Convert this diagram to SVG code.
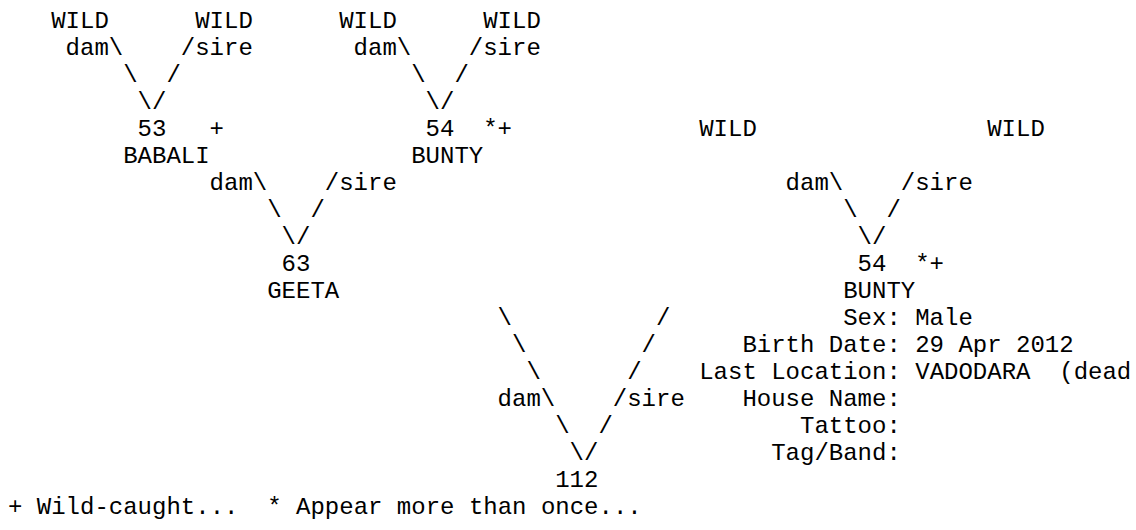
<svg xmlns="http://www.w3.org/2000/svg" width="1136" height="530" viewBox="0 0 1136 530">
<style>
.t{font-family:"Liberation Mono","Courier New",monospace;font-size:24px;fill:#000;white-space:pre}
</style>
<rect width="1136" height="530" fill="#fff"/>
<g id="connectors" class="t">
<text x="65.6" y="55">dam\</text><text x="180.8" y="55">/sire</text>
<text x="123.2" y="82">\</text><text x="166.4" y="82">/</text>
<text x="137.6" y="109">\/</text>
<text x="353.6" y="55">dam\</text><text x="468.8" y="55">/sire</text>
<text x="411.2" y="82">\</text><text x="454.4" y="82">/</text>
<text x="425.6" y="109">\/</text>
<text x="209.6" y="190">dam\</text><text x="324.8" y="190">/sire</text>
<text x="267.2" y="217">\</text><text x="310.4" y="217">/</text>
<text x="281.6" y="244">\/</text>
<text x="785.6" y="190">dam\</text><text x="900.8" y="190">/sire</text>
<text x="843.2" y="217">\</text><text x="886.4" y="217">/</text>
<text x="857.6" y="244">\/</text>
<text x="497.6" y="325">\</text><text x="656" y="325">/</text>
<text x="512" y="352">\</text><text x="641.6" y="352">/</text>
<text x="526.4" y="379">\</text><text x="627.2" y="379">/</text>
<text x="497.6" y="406">dam\</text><text x="612.8" y="406">/sire</text>
<text x="555.2" y="433">\</text><text x="598.4" y="433">/</text>
<text x="569.6" y="460">\/</text>
</g>
<g id="wild-1" class="t"><text x="51.2" y="28">WILD</text></g>
<g id="wild-2" class="t"><text x="195.2" y="28">WILD</text></g>
<g id="wild-3" class="t"><text x="339.2" y="28">WILD</text></g>
<g id="wild-4" class="t"><text x="483.2" y="28">WILD</text></g>
<g id="wild-5" class="t"><text x="699.2" y="136">WILD</text></g>
<g id="wild-6" class="t"><text x="987.2" y="136">WILD</text></g>
<g id="node-53" class="t"><text x="137.6" y="136">53</text><text x="209.6" y="136">+</text><text x="123.2" y="163">BABALI</text></g>
<g id="node-54a" class="t"><text x="425.6" y="136">54</text><text x="483.2" y="136">*+</text><text x="411.2" y="163">BUNTY</text></g>
<g id="node-63" class="t"><text x="281.6" y="271">63</text><text x="267.2" y="298">GEETA</text></g>
<g id="node-54b" class="t">
<text x="857.6" y="271">54</text><text x="915.2" y="271">*+</text>
<text x="843.2" y="298">BUNTY</text>
<text x="843.2" y="325">Sex: Male</text>
<text x="742.4" y="352">Birth Date: 29 Apr 2012</text>
<text x="699.2" y="379" xml:space="preserve">Last Location: VADODARA  (dead</text>
<text x="742.4" y="406">House Name:</text>
<text x="800" y="433">Tattoo:</text>
<text x="771.2" y="460">Tag/Band:</text>
</g>
<g id="node-112" class="t"><text x="555.2" y="487">112</text></g>
<g id="legend" class="t"><text x="8" y="514" xml:space="preserve">+ Wild-caught...  * Appear more than once...</text></g>
</svg>
